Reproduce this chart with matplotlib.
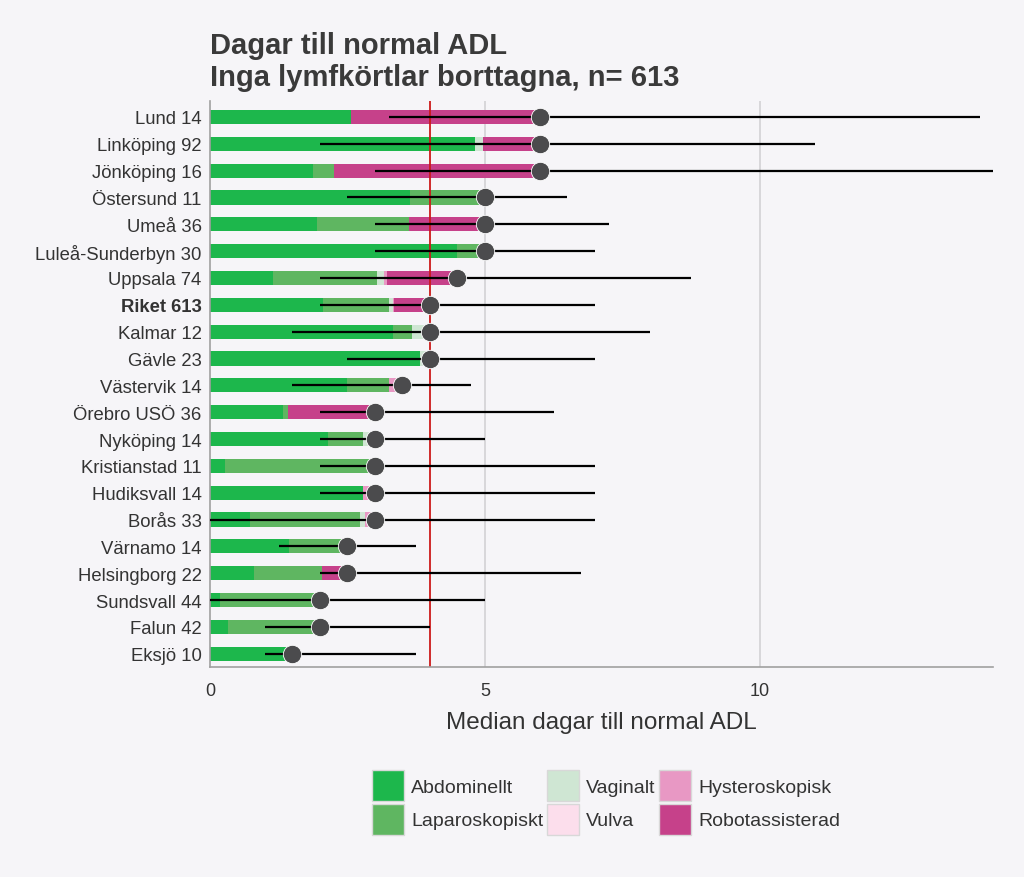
import numpy as np
import matplotlib.pyplot as plt
from matplotlib.patches import Patch

plt.rcParams['font.family'] = ['Liberation Sans', 'DejaVu Sans']

# sjukhus, uppifrån och ned
hospitals = ["Lund", "Linköping", "Jönköping", "Östersund", "Umeå", "Luleå-Sunderbyn",
             "Uppsala", "Riket", "Kalmar", "Gävle", "Västervik", "Örebro USÖ",
             "Nyköping", "Kristianstad", "Hudiksvall", "Borås", "Värnamo",
             "Helsingborg", "Sundsvall", "Falun", "Eksjö"]
n = [14, 92, 16, 11, 36, 30, 74, 613, 12, 23, 14, 36, 14, 11, 14, 33, 14, 22, 44, 42, 10]

# antal per operationsmetod
abdominellt = [6, 74, 5, 8, 14, 27, 19, 314, 10, 22, 10, 16, 10, 1, 13, 8, 8, 7, 4, 7, 10]
laparoskopiskt = [0, 0, 1, 3, 12, 3, 31, 184, 1, 0, 3, 1, 3, 10, 0, 22, 6, 11, 40, 35, 0]
vaginalt = [0, 2, 0, 0, 0, 0, 2, 11, 1, 1, 0, 0, 1, 0, 0, 1, 0, 0, 0, 0, 0]
vulva = [0, 0, 0, 0, 0, 0, 0, 0, 0, 0, 0, 0, 0, 0, 0, 0, 0, 0, 0, 0, 0]
hysteroskopisk = [0, 0, 0, 0, 0, 0, 1, 4, 0, 0, 1, 0, 0, 0, 1, 2, 0, 0, 0, 0, 0]
robot = [8, 16, 10, 0, 10, 0, 21, 100, 0, 0, 0, 19, 0, 0, 0, 0, 0, 4, 0, 0, 0]

median = [6, 6, 6, 5, 5, 5, 4.5, 4, 4, 4, 3.5, 3, 3, 3, 3, 3, 2.5, 2.5, 2, 2, 1.5]
q1 = [3.25, 2, 3, 2.5, 3, 3, 2, 2, 1.5, 2.5, 1.5, 2, 2, 2, 2, 0, 1.25, 2, 0, 1, 1]
q3 = [14, 11, 15, 6.5, 7.25, 7, 8.75, 7, 8, 7, 4.75, 6.25, 5, 7, 7, 7, 3.75, 6.75, 5, 4, 3.75]

riket_median = 4

methods = ["Abdominellt", "Laparoskopiskt", "Vaginalt", "Vulva", "Hysteroskopisk", "Robotassisterad"]
colors = ["#1db74c", "#5fb661", "#cfe6d3", "#fcdeec", "#e898c4", "#c6418a"]
counts = np.array([abdominellt, laparoskopiskt, vaginalt, vulva, hysteroskopisk, robot], dtype=float)

bg = "#f6f5f8"
fig = plt.figure(figsize=(10.24, 8.78), dpi=100, facecolor=bg)
ax = fig.add_axes([0.205, 0.239, 0.765, 0.645], facecolor=bg)

k = len(hospitals)
y = np.arange(k)[::-1]
med = np.array(median)
tot = counts.sum(axis=0)

left = np.zeros(k)
for c, col in zip(counts, colors):
    w = c / tot * med
    ax.barh(y, w, left=left, height=0.53, color=col, zorder=2)
    left += w

ax.hlines(y, q1, q3, color="black", lw=1.6, zorder=3)
ax.scatter(med, y, s=175, color="#4b4b4d", edgecolors="white", linewidths=0.6, zorder=4)

ax.axvline(riket_median, color="#cc1a1a", lw=1.3, zorder=2.5)
for gx in [5, 10]:
    ax.axvline(gx, color="#cfcfd2", lw=1.1, zorder=1)

ax.set_xlim(0, 14.24)
ax.set_ylim(-0.5, 20.6)
ax.set_xticks([0, 5, 10])
ax.set_yticks(y)
ax.set_yticklabels([f"{h} {m}" for h, m in zip(hospitals, n)])
for lab in ax.get_yticklabels():
    if lab.get_text().startswith("Riket"):
        lab.set_fontweight("bold")
ax.tick_params(axis="y", length=0, labelsize=13.3, colors="#333333", pad=6)
ax.tick_params(axis="x", length=0, labelsize=13, colors="#333333", pad=11)
for s in ["top", "right"]:
    ax.spines[s].set_visible(False)
for s in ["left", "bottom"]:
    ax.spines[s].set_color("#a0a0a0")
    ax.spines[s].set_linewidth(1.2)

ax.set_xlabel("Median dagar till normal ADL", fontsize=17.5, color="#333333", labelpad=8)

fig.text(0.205, 0.963, "Dagar till normal ADL\nInga lymfkörtlar borttagna, n= 613",
         fontsize=21, fontweight="bold", color="#3a3a3a", va="top", ha="left",
         linespacing=1.17)

handles = [Patch(facecolor=c, edgecolor="#d8d8d8", label=m) for m, c in zip(methods, colors)]
fig.legend(handles=handles, loc="center", bbox_to_anchor=(0.592, 0.085), ncol=3,
           frameon=False, fontsize=14, handlelength=1.65, handleheight=2.1,
           labelspacing=0.12, columnspacing=0.2, handletextpad=0.35,
           labelcolor="#333333")

fig.savefig("out.png", dpi=100, facecolor=bg)
